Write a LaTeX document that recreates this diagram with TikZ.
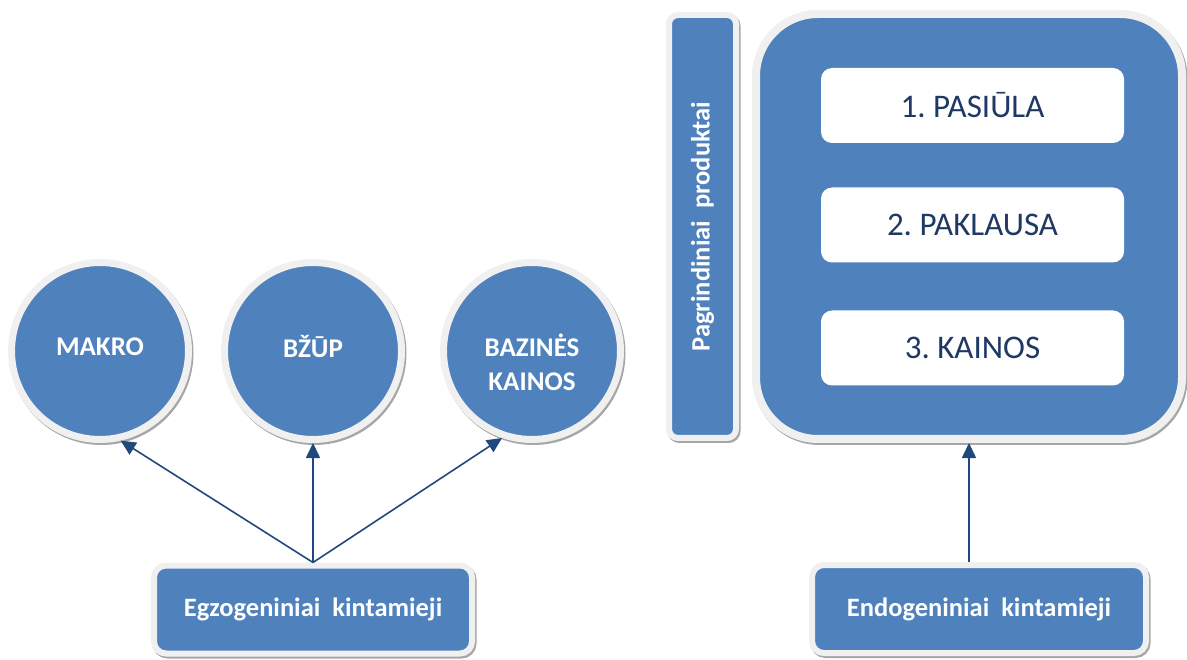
\documentclass[tikz,border=0pt]{standalone}
\usepackage{fontspec}
\setmainfont{Carlito}
\frenchspacing
\usetikzlibrary{arrows.meta,shadows}
\definecolor{bluefill}{HTML}{4F81BD}
\definecolor{ringc}{HTML}{F0F0F0}
\definecolor{arrowc}{HTML}{1F497D}
\definecolor{navyc}{HTML}{1F3864}
\begin{document}
\begin{tikzpicture}[x=1pt,y=-1pt,
  shadowed/.style={general shadow={draw=black!35, line width=#1, shadow xshift=1.5pt, shadow yshift=-2pt}},
  circ/.style={circle, fill=bluefill, draw=ringc, line width=7pt, minimum size=177pt, inner sep=0pt,
    shadowed=7pt},
  circtext/.style={text=white, font=\bfseries\fontsize{27}{34}\selectfont, align=center},
  varbox/.style={rectangle, rounded corners=12pt, fill=bluefill, draw=ringc, line width=6pt, inner sep=0pt,
    shadowed=6pt, text=white, font=\bfseries\fontsize{26.5}{30}\selectfont},
  barbox/.style={rectangle, rounded corners=9pt, fill=bluefill, draw=ringc, line width=6pt, inner sep=0pt,
    shadowed=6pt, text=white, font=\bfseries\fontsize{26.5}{30}\selectfont, rotate=90},
  bigbox/.style={rectangle, rounded corners=62pt, fill=bluefill, draw=ringc, line width=8pt, inner sep=0pt,
    shadowed=8pt},
  whitebox/.style={rectangle, rounded corners=11pt, fill=white, inner sep=0pt,
    minimum width=303pt, minimum height=75pt, text=navyc, font=\fontsize{33}{36}\selectfont},
  arr/.style={draw=arrowc, line width=1.6pt, -{Triangle[length=15pt,width=14pt]}}
]
\useasboundingbox (0,0) rectangle (1187,660);
\node[circ, label={[circtext, yshift=4.5pt]center:MAKRO}] (makro) at (100,351) {};
\node[circ, label={[circtext, yshift=4.5pt]center:BŽŪP}] (bzup) at (313,351) {};
\node[circ, label={[circtext, yshift=-11pt]center:{BAZINĖS\\KAINOS}}] (baz) at (532,351) {};
\node[varbox, minimum width=318pt, minimum height=88pt] (egz) at (313,609.5) {Egzogeniniai\ \ kintamieji};
\node[varbox, minimum width=334pt, minimum height=88pt] (endo) at (979,609) {Endogeniniai\ \ kintamieji};
\node[barbox, minimum width=423pt, minimum height=67pt] (prod) at (702.5,226.5) {Pagrindiniai\ \ produktai};
\node[bigbox, minimum width=426pt, minimum height=425pt] (big) at (969,226.5) {};
\node[whitebox] (s1) at (972.5,105.5) {1. PASIŪLA};
\node[whitebox] (s2) at (972.5,225) {2. PAKLAUSA};
\node[whitebox] (s3) at (972.5,348) {3. KAINOS};
\draw[arr] (egz.north) -- (makro.-77);
\draw[arr] (egz.north) -- (bzup.south);
\draw[arr] (egz.north) -- (baz.-109);
\draw[arr] (endo.north -| big.south) -- (big.south);
\end{tikzpicture}
\end{document}
